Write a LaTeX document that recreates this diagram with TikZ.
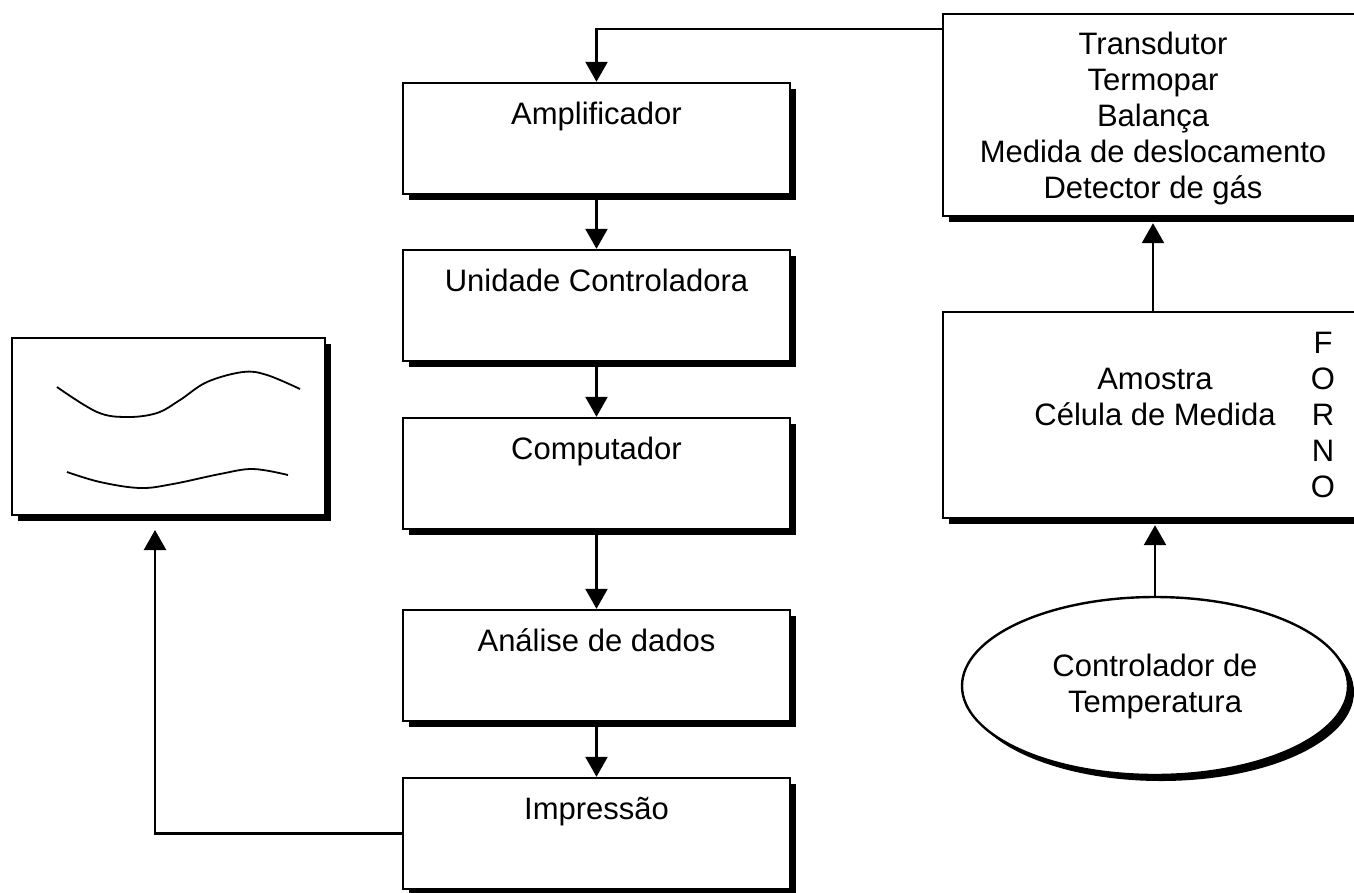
\documentclass[tikz,border=0pt]{standalone}
\usepackage{fontspec}
\setmainfont{Liberation Sans}
\usetikzlibrary{arrows.meta,shapes.geometric,shadows}
\begin{document}
\begin{tikzpicture}[x=1pt,y=-1pt,
  shd/.style={drop shadow={shadow xshift=6pt,shadow yshift=-6pt,opacity=1,fill=black}},
  flowbox/.style={draw,line width=2.4pt,fill=white,shd,inner sep=0pt,
     minimum width=387pt,text height=41pt,text depth=70pt,align=center,
     font=\fontsize{31}{36}\selectfont},
  bigbox/.style={draw,line width=2.4pt,fill=white,shd,inner sep=0pt,minimum width=420pt},
  lbl/.style={align=center,inner sep=0pt,font=\fontsize{31}{36}\selectfont},
  arr/.style={line width=2.4pt,-{Triangle[length=20pt,width=22pt]}},
  curve/.style={line width=1.8pt}
]
\useasboundingbox (0,0) rectangle (1354,892);
\clip (0,0) rectangle (1354,892);
\fill[white] (0,0) rectangle (1354,892);

% centre column
\node[flowbox] (amp)  at (596.5,138.5) {Amplificador};
\node[flowbox] (uni)  at (596.5,305.5) {Unidade Controladora};
\node[flowbox] (comp) at (596.5,473.5) {Computador};
\node[flowbox] (ana)  at (596.5,665.5) {Análise de dados};
\node[flowbox] (imp)  at (596.5,833.5) {Impressão};

% right column
\node[bigbox,minimum height=202pt] (trans) at (1153,115) {};
\node[lbl] (transtxt) at (1153,118) {Transdutor\\Termopar\\Balança\\Medida de deslocamento\\Detector de gás};
\node[bigbox,minimum height=206pt] (ams) at (1153,415) {};
\node[lbl] (amstxt) at (1155,397) {Amostra\\Célula de Medida};
\node[lbl] (forno) at (1323,415) {F\\O\\R\\N\\O};
\node[draw,line width=2.4pt,fill=white,shd,ellipse,inner sep=0pt,
      minimum width=386pt,minimum height=178pt,align=center,
      font=\fontsize{31}{36}\selectfont] (ctl) at (1155,686) {Controlador de\\Temperatura};

% graph box
\node[draw,line width=2.4pt,fill=white,shd,inner sep=0pt,
      minimum width=313pt,minimum height=177pt] (graph) at (168.5,426.5) {};
\draw[curve] plot[smooth,tension=0.6] coordinates {(57,387) (97,412) (127,417) (157,413) (180,400) (207,382) (243,372) (267,375) (300,389)};
\draw[curve] plot[smooth,tension=0.6] coordinates {(67,472) (100,482) (140,488) (173,484) (220,474) (253,469) (288,475)};

% connectors
\coordinate (amsbot) at ([yshift=-6pt]ams.south);
\coordinate (transbot) at ([yshift=-6pt]trans.south);
\coordinate (fbstart) at ([yshift=-16pt]trans.north west);
\coordinate (gtip) at (155,530);
\draw[arr] (amp.south) -- (uni.north);
\draw[arr] (uni.south) -- (comp.north);
\draw[arr] (comp.south) -- (ana.north);
\draw[arr] (ana.south) -- (imp.north);
\draw[arr] (fbstart) -| (amp.north);
\draw[arr] (ams.north) -- (transbot);
\draw[arr] (ctl.north) -- (ctl.north |- amsbot);
\draw[arr] (imp.west) -| (gtip);
\end{tikzpicture}
\end{document}
